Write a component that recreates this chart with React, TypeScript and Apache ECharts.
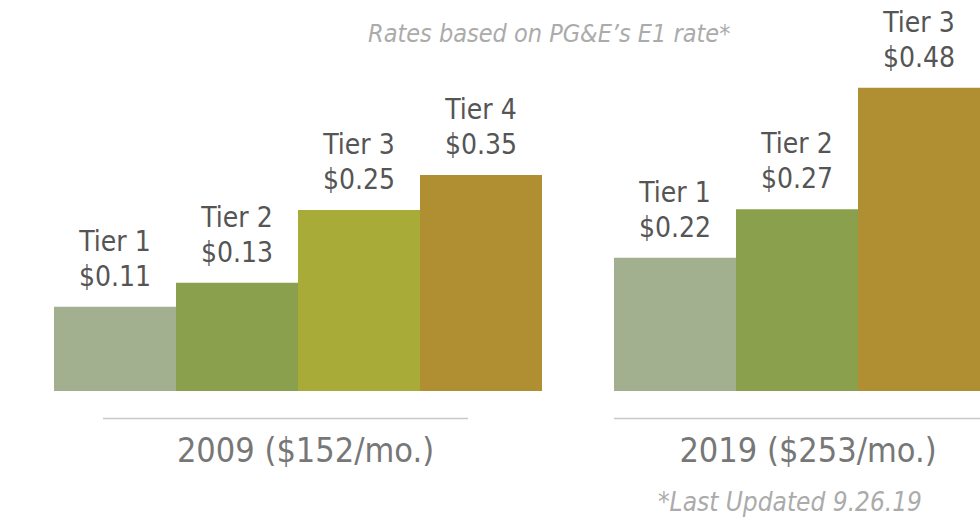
import React, { useEffect, useRef } from "react";
import * as echarts from "echarts";

const categories2009 = ["Tier 1", "Tier 2", "Tier 3", "Tier 4"];
const rates2009 = ["$0.11", "$0.13", "$0.25", "$0.35"];
// relative bar heights as drawn (tallest bar = 100)
const barHeights2009 = [27.8, 35.7, 59.7, 71.2];
const colors2009 = ["#a3b08f", "#8aa04d", "#a9ab38", "#b08f33"];

const categories2019 = ["Tier 1", "Tier 2", "Tier 3"];
const rates2019 = ["$0.22", "$0.27", "$0.48"];
const barHeights2019 = [43.9, 59.9, 100];
const colors2019 = ["#a3b08f", "#8aa04d", "#b08f33"];

const groupLabels = ["2009 ($152/mo.)", "2019 ($253/mo.)"];
const titleText = "Rates based on PG&E\u2019s E1 rate*";
const footnoteText = "*Last Updated 9.26.19";

const FONT = "'Liberation Sans Narrow', 'DejaVu Sans Condensed', 'Liberation Sans', sans-serif";

export default function App() {
  const ref = useRef<HTMLDivElement>(null);
  useEffect(() => {
    document.body.style.margin = "0";
    if (!ref.current) return;
    const chart = echarts.init(ref.current, null, { renderer: "svg" });

    const makeSeries = (idx: number, cats: string[], rates: string[], vals: number[], colors: string[]) => ({
      type: "bar",
      xAxisIndex: idx,
      yAxisIndex: idx,
      barCategoryGap: "0%",
      data: vals.map((v, i) => ({ value: v, itemStyle: { color: colors[i] } })),
      label: {
        show: true,
        position: "top",
        distance: 13,
        formatter: (p: any) => `${cats[p.dataIndex]}\n${rates[p.dataIndex]}`,
        fontFamily: FONT,
        fontSize: 28,
        lineHeight: 35,
        color: "#555555",
      },
    });

    const xAxisFor = (idx: number, cats: string[], pad: number) => ({
      type: "category",
      gridIndex: idx,
      data: cats,
      axisLine: { show: false },
      axisTick: { show: false },
      axisLabel: { show: false },
      name: groupLabels[idx],
      nameLocation: "middle",
      nameGap: 40,
      nameTextStyle: {
        fontFamily: FONT,
        fontSize: 34,
        lineHeight: 38,
        color: "#777777",
        padding: [0, 0, 0, pad],
      },
    });

    const yAxisFor = (idx: number) => ({
      type: "value",
      gridIndex: idx,
      min: 0,
      max: 100,
      show: false,
    });

    chart.setOption({
      animation: false,
      title: [
        {
          text: titleText,
          left: 368,
          top: 20.5,
          padding: 0,
          textStyle: {
            fontFamily: FONT,
            fontStyle: "italic",
            fontWeight: "normal",
            fontSize: 25,
            lineHeight: 25,
            color: "#ababab",
          },
        },
        {
          text: footnoteText,
          right: 58,
          top: 489,
          padding: 0,
          textStyle: {
            fontFamily: FONT,
            fontStyle: "italic",
            fontWeight: "normal",
            fontSize: 26,
            lineHeight: 26,
            color: "#ababab",
          },
        },
      ],
      grid: [
        { left: 54, width: 488, top: 87.7, height: 303.3, containLabel: false },
        { left: 614, width: 366, top: 87.7, height: 303.3, containLabel: false },
      ],
      xAxis: [xAxisFor(0, categories2009, 15), xAxisFor(1, categories2019, 22)],
      yAxis: [yAxisFor(0), yAxisFor(1)],
      series: [
        makeSeries(0, categories2009, rates2009, barHeights2009, colors2009),
        makeSeries(1, categories2019, rates2019, barHeights2019, colors2019),
      ],
      graphic: [
        { type: "line", shape: { x1: 103, y1: 418.5, x2: 468, y2: 418.5 }, style: { stroke: "#c8c8c8", lineWidth: 1.5 } },
        { type: "line", shape: { x1: 614, y1: 418.5, x2: 980, y2: 418.5 }, style: { stroke: "#c8c8c8", lineWidth: 1.5 } },
      ],
    });
    return () => chart.dispose();
  }, []);
  return <div ref={ref} style={{ width: 980, height: 523 }} />;
}
